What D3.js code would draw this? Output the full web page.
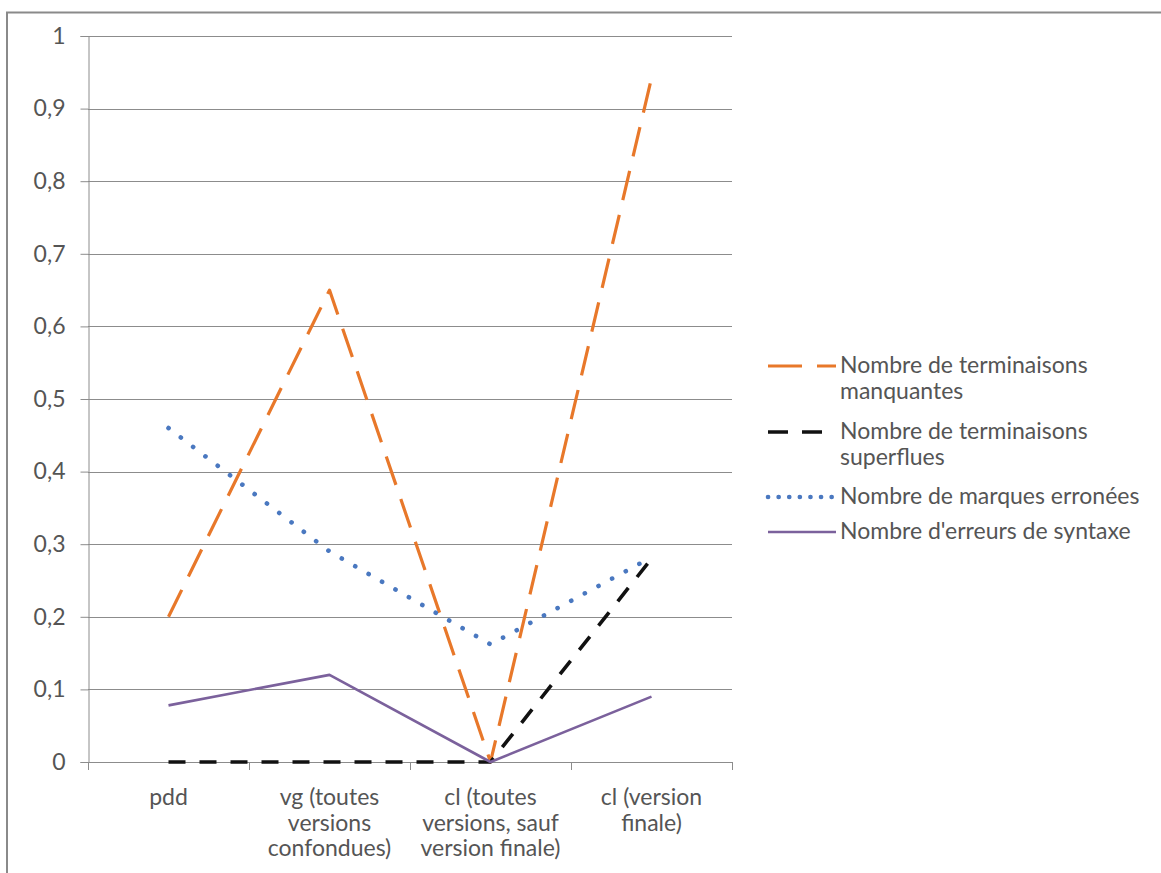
<!DOCTYPE html>
<html><head><meta charset="utf-8">
<script src="https://cdn.jsdelivr.net/npm/d3@7/dist/d3.min.js"></script>
<style>body{margin:0;background:#fff}svg{display:block}text{font-family:Lato,"Open Sans",sans-serif;fill:#555}</style>
</head><body><svg id="c" width="1161" height="873"></svg>
<script>
const categories = [["pdd"],["vg (toutes","versions","confondues)"],["cl (toutes","versions, sauf","version finale)"],["cl (version","finale)"]];
const catKeys = ["pdd","vg","cl","clf"];
const manquantes = [0.2, 0.65, 0, 0.942];
const superflues = [0, 0, 0, 0.28];
const erronees = [0.46, 0.29, 0.162, 0.282];
const syntaxe = [0.078, 0.12, 0, 0.09];
const yTicks = [0,0.1,0.2,0.3,0.4,0.5,0.6,0.7,0.8,0.9,1];
const yTickLabels = ["0","0,1","0,2","0,3","0,4","0,5","0,6","0,7","0,8","0,9","1"];
const seriesNames = [["Nombre de terminaisons","manquantes"],["Nombre de terminaisons","superflues"],["Nombre de marques erronées"],["Nombre d'erreurs de syntaxe"]];

const series = [
  {values: manquantes, color:"#E8782A", width:3.2, dash:"30,15", cap:"butt"},
  {values: superflues, color:"#111", width:3.6, dash:"17,14", cap:"butt"},
  {values: erronees, color:"#4a78c0", width:4.6, dash:"0.1,15.4", cap:"round"},
  {values: syntaxe, color:"#7b619c", width:2.6, dash:null, cap:"butt"}
];
const FS = 23;

const svg = d3.select("#c");
svg.append("rect").attr("width",1161).attr("height",873).attr("fill","#fff");
svg.append("rect").attr("x",7).attr("y",12.5).attr("width",1170).attr("height",880)
  .attr("fill","none").attr("stroke","#8a8a8a").attr("stroke-width",2);

const pLeft=88, pRight=732, pTop=36, pBottom=762;
const x = d3.scaleBand().domain(catKeys).range([pLeft,pRight]);
const y = d3.scaleLinear().domain([0,1]).range([pBottom,pTop]);

// gridlines
svg.append("g").selectAll("line").data(yTicks).join("line")
  .attr("x1",pLeft).attr("x2",pRight).attr("y1",d=>Math.round(y(d))+0.5).attr("y2",d=>Math.round(y(d))+0.5)
  .attr("stroke","#8c8c8c").attr("stroke-width",1);

// y axis
const ya = svg.append("g").attr("transform",`translate(${pLeft+0.5},0)`)
  .call(d3.axisLeft(y).tickValues(yTicks).tickFormat((d,i)=>yTickLabels[i]).tickSize(8).tickPadding(15));
ya.select(".domain").attr("stroke","#8c8c8c");
ya.selectAll(".tick line").attr("stroke","#8c8c8c");
ya.selectAll(".tick text").attr("font-size",FS).attr("fill","#555").attr("font-family","Lato");

// x axis line and ticks
svg.append("line").attr("x1",pLeft).attr("x2",pRight).attr("y1",pBottom+0.5).attr("y2",pBottom+0.5).attr("stroke","#8c8c8c");
const bounds = catKeys.map(k=>x(k)).concat([pRight]);
svg.append("g").selectAll("line").data(bounds).join("line")
  .attr("x1",d=>Math.round(d)+0.5).attr("x2",d=>Math.round(d)+0.5).attr("y1",pBottom).attr("y2",pBottom+8).attr("stroke","#8c8c8c");

// x labels
const xl = svg.append("g");
catKeys.forEach((k,i)=>{
  const t = xl.append("text").attr("x",x(k)+x.bandwidth()/2).attr("y",805).attr("text-anchor","middle").attr("font-size",FS);
  categories[i].forEach((ln,j)=>t.append("tspan").attr("x",x(k)+x.bandwidth()/2).attr("dy",j?25.5:0).text(ln));
});

// lines
const line = d3.line().x((d,i)=>x(catKeys[i])+x.bandwidth()/2).y(d=>y(d));
series.forEach(s=>{
  const p = svg.append("path").datum(s.values).attr("d",line).attr("fill","none")
    .attr("stroke",s.color).attr("stroke-width",s.width).attr("stroke-linecap",s.cap).attr("stroke-linejoin","round");
  if(s.dash) p.attr("stroke-dasharray",s.dash);
});

// legend
const legY = [366, 432, 497, 532];
series.forEach((s,i)=>{
  const l = svg.append("line").attr("x1",768).attr("x2",836).attr("y1",legY[i]).attr("y2",legY[i])
    .attr("stroke",s.color).attr("stroke-width",s.width).attr("stroke-linecap",s.cap);
  if(s.dash) l.attr("stroke-dasharray", i===0?"34,15":(i===1?"20,14":"0.1,10.5"));
  const t = svg.append("text").attr("x",840).attr("y",legY[i]+7).attr("font-size",FS);
  seriesNames[i].forEach((ln,j)=>t.append("tspan").attr("x",840).attr("dy",j?26:0).text(ln));
});
</script></body></html>
